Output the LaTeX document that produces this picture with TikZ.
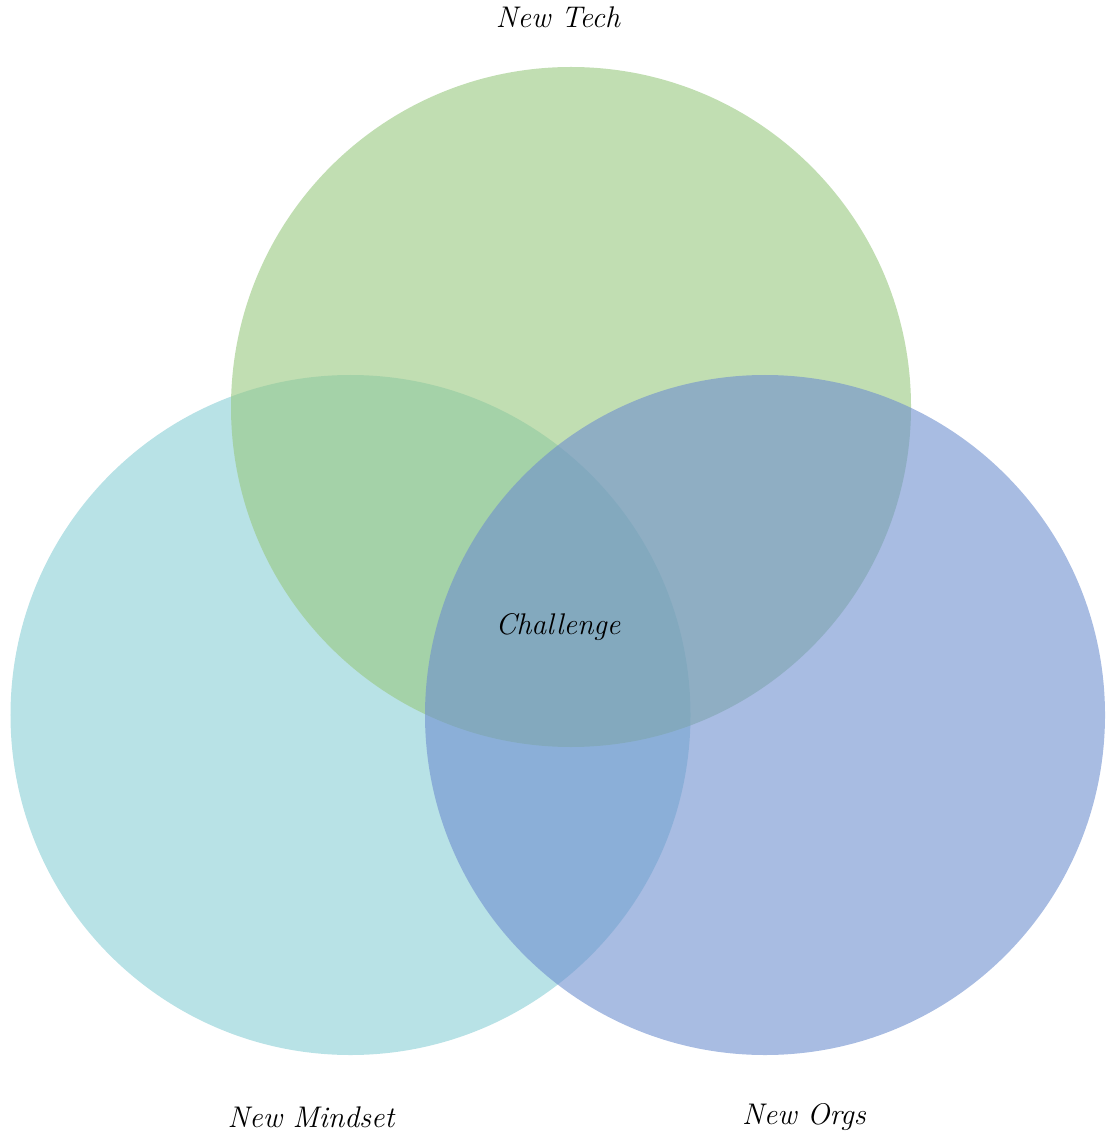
\documentclass[tikz,border=0pt]{standalone}
\usepackage{tikz}
\definecolor{TechGreen}{RGB}{152,200,127}
\definecolor{MindCyan}{RGB}{137,206,213}
\definecolor{OrgBlue}{RGB}{110,143,207}
\tikzset{
  setcircle/.style={circle,minimum size=13.6cm,inner sep=0pt,fill opacity=0.6,draw=none},
  setlabel/.style={font=\fontsize{17}{20}\selectfont\itshape,text=black,inner sep=0pt}
}

\begin{document}
\begin{tikzpicture}
  \useasboundingbox (0,0) rectangle (22.16,-22.76);
  \node[setcircle, fill=MindCyan] (mind) at (7.01,-14.3) {};
  \node[setcircle, fill=TechGreen] (tech) at (11.42,-8.14) {};
  \node[setcircle, fill=OrgBlue] (orgs) at (15.3,-14.3) {};

  \node[setlabel] (techlbl) at (11.16,-0.34) {New Tech};
  \node[setlabel] (chal) at (11.16,-12.54) {Challenge};
  \node[setlabel] (mindlbl) at (6.22,-22.34) {New Mindset};
  \node[setlabel] (orgslbl) at (16.08,-22.34) {New Orgs};
\end{tikzpicture}
\end{document}
